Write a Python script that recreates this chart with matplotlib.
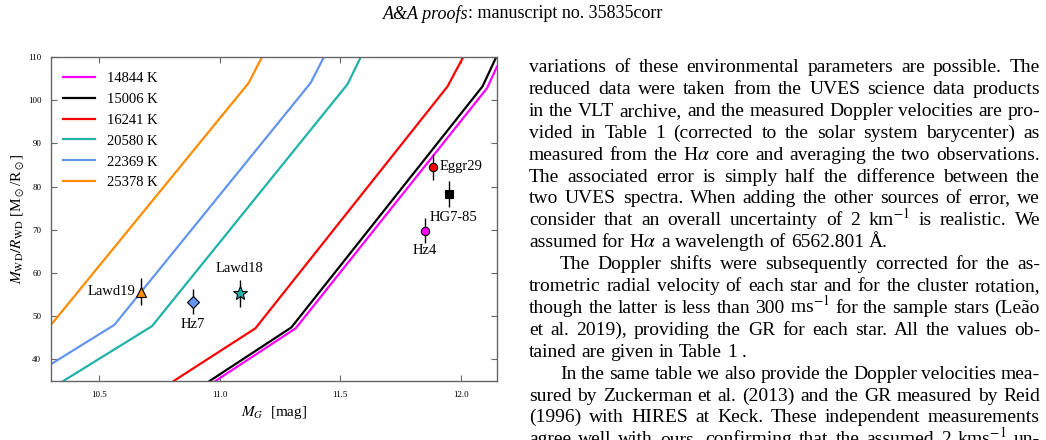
import matplotlib
matplotlib.use("Agg")
import matplotlib.pyplot as plt

plt.rcParams['font.family'] = ['Liberation Serif', 'DejaVu Serif']
plt.rcParams['mathtext.fontset'] = 'stix'

# model tracks: M_G [mag] vs M/R [Msun/Rsun]
track_labels = ["14844 K", "15006 K", "16241 K", "20580 K", "22369 K", "25378 K"]
track_colors = ["#ff00ff", "#000000", "#ff0000", "#20b2aa", "#6495ed", "#ff8c00"]
mg_14844 = [10.982, 11.315, 12.109, 12.15]
mr_14844 = [35.0, 47.2, 102.8, 107.8]
mg_15006 = [10.958, 11.297, 12.09, 12.147]
mr_15006 = [35.0, 47.4, 103.2, 110.0]
mg_16241 = [10.809, 11.148, 11.945, 12.01]
mr_16241 = [35.0, 47.2, 103.2, 110.0]
mg_20580 = [10.351, 10.719, 11.53, 11.585]
mr_20580 = [35.0, 47.7, 103.7, 110.0]
mg_22369 = [10.30, 10.563, 11.377, 11.432]
mr_22369 = [38.9, 48.0, 104.0, 110.0]
mg_25378 = [10.30, 11.12, 11.175]
mr_25378 = [48.0, 104.0, 110.0]

# observed stars
star_names = ["Lawd19", "Hz7", "Lawd18", "Eggr29", "HG7-85", "Hz4"]
star_mg = [10.675, 10.889, 11.083, 11.883, 11.949, 11.851]
star_mr = [55.7, 53.4, 55.3, 84.6, 78.2, 69.8]
star_err = [3.1, 3.0, 3.1, 3.0, 3.0, 2.9]
star_colors = ["#ff8c00", "#6495ed", "#20b2aa", "#ff0000", "#000000", "#ff00ff"]

header_italic = "A&A proofs"
header_rest = ": manuscript no. 35835corr"

body_lines = [
    "variations of these environmental parameters are possible. The",
    "reduced data were taken from the UVES science data products",
    "in the VLT archive, and the measured Doppler velocities are pro-",
    "vided in Table 1 (corrected to the solar system barycenter) as",
    r"measured from the H$\alpha$ core and averaging the two observations.",
    "The associated error is simply half the difference between the",
    "two UVES spectra. When adding the other sources of error, we",
    r"consider that an overall uncertainty of 2 km$^{-1}$ is realistic. We",
    r"assumed for H$\alpha$ a wavelength of 6562.801 Å.",
    "The Doppler shifts were subsequently corrected for the as-",
    "trometric radial velocity of each star and for the cluster rotation,",
    r"though the latter is less than 300 ms$^{-1}$ for the sample stars (Leão",
    "et al. 2019), providing the GR for each star. All the values ob-",
    "tained are given in Table 1 .",
    "In the same table we also provide the Doppler velocities mea-",
    "sured by Zuckerman et al. (2013) and the GR measured by Reid",
    "(1996) with HIRES at Keck. These independent measurements",
    r"agree well with ours, confirming that the assumed 2 kms$^{-1}$ un-",
]
indented = {9, 14}
ragged = {8, 13}

W, H = 1046, 440
fig = plt.figure(figsize=(W / 100, H / 100), dpi=100)
ax = fig.add_axes([51 / W, 1 - 381 / H, 446 / W, 324 / H])

tracks = [(mg_14844, mr_14844), (mg_15006, mr_15006), (mg_16241, mr_16241),
          (mg_20580, mr_20580), (mg_22369, mr_22369), (mg_25378, mr_25378)]
for (xs, ys), lab, c in zip(tracks, track_labels, track_colors):
    ax.plot(xs, ys, color=c, lw=1.6, label=lab)

markers = ["^", "D", "*", "o", "s", "o"]
sizes = [7, 6, 10, 6, 5.5, 6]
offsets = [(-6, 0), (0, -23), (0, 25), (7, 0), (5, -23), (0, -20)]
aligns = [("right", "center"), ("center", "center"), ("center", "center"),
          ("left", "center"), ("center", "center"), ("center", "center")]
for i, name in enumerate(star_names):
    ax.errorbar(star_mg[i], star_mr[i], yerr=star_err[i], fmt="none",
                ecolor="k", elinewidth=1.0, capsize=0, zorder=4)
    ax.plot(star_mg[i], star_mr[i], marker=markers[i], ms=sizes[i],
            color=star_colors[i], mec="k", mew=0.8, ls="none", zorder=5)
    ax.annotate(name, (star_mg[i], star_mr[i]), xytext=offsets[i],
                textcoords="offset pixels", ha=aligns[i][0], va=aligns[i][1],
                fontsize=10.5)

ax.set_xlim(10.3, 12.15)
ax.set_ylim(35, 110)
ax.set_xticks([10.5, 11.0, 11.5, 12.0])
ax.set_xticklabels(["10.5", "11.0", "11.5", "12.0"])
ax.set_yticks([40, 50, 60, 70, 80, 90, 100, 110])
ax.tick_params(direction="in", top=True, right=True, length=4, width=0.8,
               color="#666666", labelsize=6.5, pad=7)
for s in ax.spines.values():
    s.set_color("#666666")
    s.set_linewidth(1.0)
ax.set_xlabel(r"$M_G$  [mag]", fontsize=11, labelpad=4)
ax.set_ylabel(r"$M_{\rm WD}/R_{\rm WD}$ [M$_\odot$/R$_\odot$]", fontsize=11, labelpad=1)
ax.legend(loc="upper left", bbox_to_anchor=(0.027, 0.955), frameon=False,
          fontsize=10.5, handlelength=2.2, handletextpad=0.8, labelspacing=0.53,
          borderpad=0, borderaxespad=0)

# running header
fig.text(468 / W, 1 - 14 / H, header_italic, ha="right", va="center",
         fontsize=13, style="italic")
fig.text(468 / W, 1 - 14 / H, header_rest, ha="left", va="center", fontsize=13)

# justified text column
renderer = fig.canvas.get_renderer()
col_left, col_right = 529, 1040
fs = 14.0
for i, line in enumerate(body_lines):
    words = line.split(" ")
    texts = [fig.text(0, 0, w, fontsize=fs, va="baseline") for w in words]
    widths = [t.get_window_extent(renderer).width for t in texts]
    x0 = col_left + (31 if i in indented else 0)
    if i in ragged or len(words) == 1:
        gap = 5.0
    else:
        gap = (col_right - x0 - sum(widths)) / (len(words) - 1)
    yb = 72 + 21.9 * i
    x = x0
    for t, w in zip(texts, widths):
        t.set_position((x / W, 1 - yb / H))
        x += w + gap

fig.savefig("out.png", dpi=100)
